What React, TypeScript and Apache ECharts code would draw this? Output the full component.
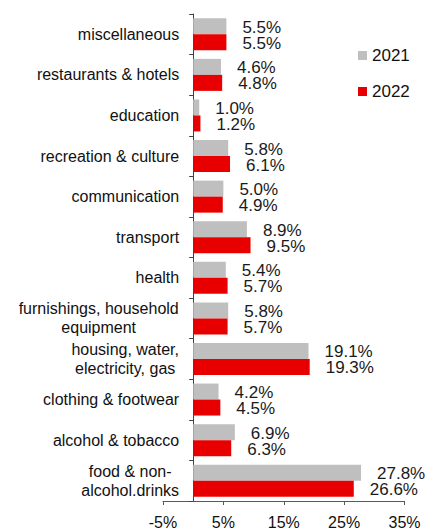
import React, { useEffect, useRef } from "react";
import * as echarts from "echarts";

const categories = [
  "miscellaneous",
  "restaurants & hotels",
  "education",
  "recreation & culture",
  "communication",
  "transport",
  "health",
  "furnishings, household\nequipment",
  "housing, water,\nelectricity, gas",
  "clothing & footwear",
  "alcohol & tobacco",
  "food & non-\nalcohol.drinks",
];
const values2021 = [5.5, 4.6, 1.0, 5.8, 5.0, 8.9, 5.4, 5.8, 19.1, 4.2, 6.9, 27.8];
const values2022 = [5.5, 4.8, 1.2, 6.1, 4.9, 9.5, 5.7, 5.7, 19.3, 4.5, 6.3, 26.6];
const xTicks = [-5, 5, 15, 25, 35];
const X_MIN = -5;
const X_MAX = 35;

const FONT = "'Liberation Sans', Arial, Helvetica, sans-serif";
const CAT_SIZE = 16;
const W = 430;
const GRID_LEFT = 163;
const GRID_RIGHT = 25.5;

function measure(text: string, size: number): number {
  const c = document.createElement("canvas").getContext("2d");
  if (!c) return text.length * size * 0.5;
  c.font = `${size}px ${FONT}`;
  return c.measureText(text).width;
}

export default function App() {
  const ref = useRef<HTMLDivElement>(null);
  useEffect(() => {
    if (!ref.current) return;
    const chart = echarts.init(ref.current, null, { renderer: "svg" });
    const widthOf = (v: string) =>
      Math.ceil(Math.max(...v.split("\n").map((l) => measure(l, CAT_SIZE))));
    const catFormatter = (v: string) => {
      if (v.indexOf("\n") < 0) return v;
      const w = widthOf(v);
      return v.split("\n").map((l) => `{c${w}|${l}}`).join("\n");
    };
    const rich: Record<string, any> = {};
    categories.forEach((v) => {
      if (v.indexOf("\n") >= 0) {
        const w = widthOf(v);
        rich["c" + w] = {
          width: w,
          align: "center",
          fontSize: CAT_SIZE,
          lineHeight: 19,
          fontFamily: FONT,
          color: "#111",
        };
      }
    });
    // shift the category axis to sit on the zero line of the value axis
    const plotW = W - GRID_LEFT - GRID_RIGHT;
    const zeroOffset = ((0 - X_MIN) / (X_MAX - X_MIN)) * plotW;
    const labelCommon = {
      show: true,
      position: "right",
      distance: 16,
      offset: [0, 1],
      fontSize: 17,
      lineHeight: 16,
      fontFamily: FONT,
      color: "#1a1a1a",
      formatter: (p: any) => Number(p.value).toFixed(1) + "%",
    };
    chart.setOption({
      animation: false,
      textStyle: { fontFamily: FONT },
      grid: {
        left: GRID_LEFT,
        right: GRID_RIGHT,
        top: 14,
        bottom: 30,
        containLabel: false,
        outerBoundsMode: "none",
      },
      legend: {
        orient: "vertical",
        left: 358,
        top: 47,
        padding: 0,
        itemWidth: 9,
        itemHeight: 9,
        itemGap: 19,
        icon: "rect",
        textStyle: { fontSize: 17, color: "#111", fontFamily: FONT },
        data: ["2021", "2022"],
      },
      xAxis: {
        type: "value",
        min: X_MIN,
        max: X_MAX,
        axisLine: { show: true, onZero: false, lineStyle: { color: "#595959", width: 1 } },
        axisTick: { show: true, length: 4, customValues: xTicks, lineStyle: { color: "#595959" } },
        axisLabel: {
          customValues: xTicks,
          formatter: (v: number) => v + "%",
          fontSize: 16,
          lineHeight: 12,
          color: "#111",
          fontFamily: FONT,
          margin: 15.5,
        },
        splitLine: { show: false },
      },
      yAxis: {
        type: "category",
        inverse: true,
        data: categories,
        offset: -zeroOffset,
        axisLine: { show: true, onZero: false, lineStyle: { color: "#404040", width: 1 } },
        axisTick: { show: true, length: 4, lineStyle: { color: "#404040" } },
        axisLabel: {
          fontSize: CAT_SIZE,
          color: "#111",
          fontFamily: FONT,
          margin: 14,
          lineHeight: 19,
          formatter: catFormatter,
          rich,
        },
      },
      series: [
        {
          name: "2021",
          type: "bar",
          data: values2021,
          barWidth: 16,
          barGap: "0%",
          itemStyle: { color: "#bfbfbf" },
          label: labelCommon,
        },
        {
          name: "2022",
          type: "bar",
          data: values2022,
          barWidth: 16,
          barGap: "0%",
          itemStyle: { color: "#e80000" },
          label: labelCommon,
        },
      ],
    });
    return () => chart.dispose();
  }, []);
  return (
    <div
      ref={ref}
      style={{ position: "absolute", left: 0, top: 0, width: W, height: 531 }}
    />
  );
}
